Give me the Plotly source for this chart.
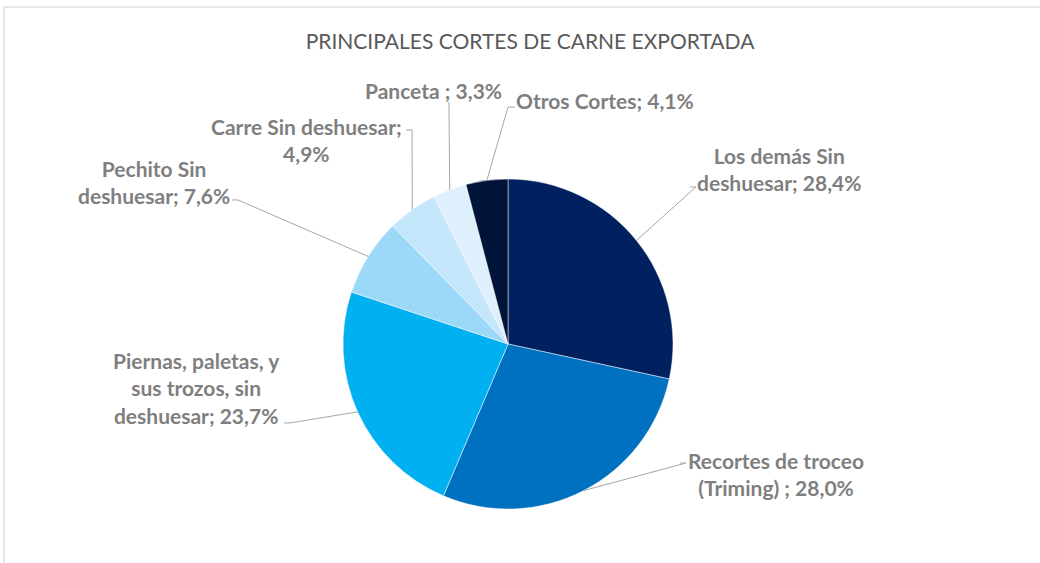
import math
import plotly.graph_objects as go

# data
cortes = ['Los demás Sin deshuesar', 'Recortes de troceo (Triming) ',
          'Piernas, paletas, y sus trozos, sin deshuesar', 'Pechito Sin deshuesar',
          'Carre Sin deshuesar', 'Panceta ', 'Otros Cortes']
porcentajes = [28.4, 28.0, 23.7, 7.6, 4.9, 3.3, 4.1]
colores = ['#002060', '#0070C0', '#00B0F0', '#9CD8F7', '#C3E6FA', '#DDF0FC', '#001338']

# label text broken over lines like in the original
etiquetas = ['Los demás Sin<br>deshuesar; 28,4%',
             'Recortes de troceo<br>(Triming) ; 28,0%',
             'Piernas, paletas, y<br>sus trozos, sin<br>deshuesar; 23,7%',
             'Pechito Sin<br>deshuesar; 7,6%',
             'Carre Sin deshuesar;<br>4,9%',
             'Panceta ; 3,3%',
             'Otros Cortes; 4,1%']

W, H = 1040, 563
CX, CY, R = 508, 344, 165

# where each label sits (pixels) and the elbow points of its leader line
pos_texto = [(779, 169), (776, 474), (196, 388), (154, 182), (306, 140), (433, 90), (605, 100)]
codos = [[(696, 187), (690, 187)],
         [(686, 463), (680, 463)],
         [(290, 423), (284, 423)],
         [(238, 200), (232, 200)],
         [(412, 130), (406, 130)],
         [(449, 102)],
         [(508, 107), (515, 107)]]


def px_x(x):
    return x / W


def px_y(y):
    return 1 - y / H


fig = go.Figure(go.Pie(
    labels=cortes,
    values=porcentajes,
    sort=False,
    direction='clockwise',
    rotation=0,
    textinfo='none',
    hoverinfo='label+percent',
    marker=dict(colors=colores, line=dict(color='rgba(255,255,255,0.6)', width=0.8)),
    domain=dict(x=[px_x(CX - R), px_x(CX + R)], y=[px_y(CY + R), px_y(CY - R)]),
    showlegend=False
))

shapes = [dict(type='rect', xref='paper', yref='paper',
               x0=px_x(4), x1=1.02, y0=-0.05, y1=px_y(7),
               line=dict(color='#D0D0D0', width=1))]
annotations = []

total = sum(porcentajes)
acum = 0
for i, v in enumerate(porcentajes):
    medio = (acum + v / 2) / total * 2 * math.pi
    acum += v
    ax = CX + R * math.sin(medio)
    ay = CY - R * math.cos(medio)
    pts = [(ax, ay)] + codos[i]
    path = 'M ' + ' L '.join('{:.4f} {:.4f}'.format(px_x(x), px_y(y)) for x, y in pts)
    shapes.append(dict(type='path', xref='paper', yref='paper', path=path,
                       line=dict(color='#A6A6A6', width=1)))
    tx, ty = pos_texto[i]
    annotations.append(dict(x=px_x(tx), y=px_y(ty), xref='paper', yref='paper',
                            text=etiquetas[i], showarrow=False,
                            xanchor='center', yanchor='middle', align='center',
                            font=dict(family='Lato', size=21, color='#7F7F7F', weight='bold')))

fig.update_layout(
    width=W, height=H,
    margin=dict(l=0, r=0, t=0, b=0),
    paper_bgcolor='white',
    title=dict(text='PRINCIPALES CORTES DE CARNE EXPORTADA',
               x=530 / W, y=px_y(42), xanchor='center', yanchor='middle',
               font=dict(family='Lato', size=21, color='#595959')),
    shapes=shapes,
    annotations=annotations
)

# drop the default page margin so the figure starts at the window corner
fig.write_html('out.html', config={'displayModeBar': False},
               post_script="document.body.style.margin='0';")
